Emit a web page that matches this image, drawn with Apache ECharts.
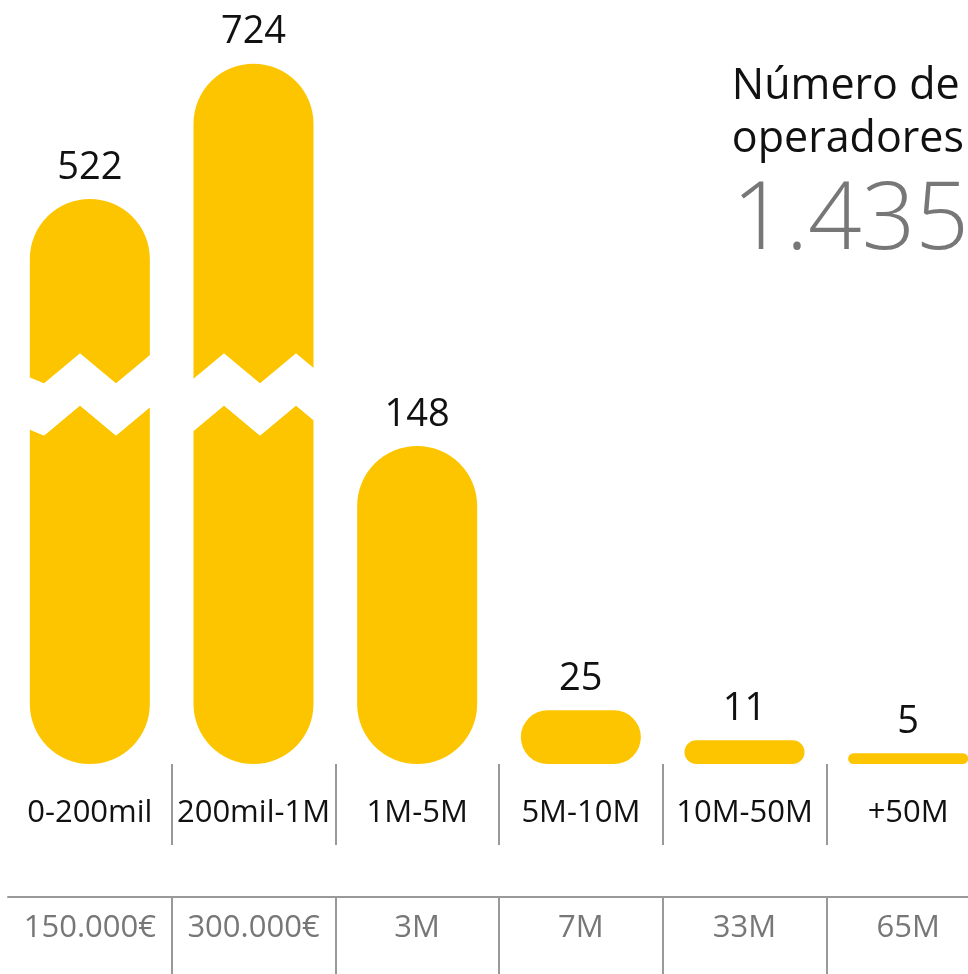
<!DOCTYPE html>
<html>
<head>
<meta charset="utf-8">
<script src="https://cdn.jsdelivr.net/npm/echarts@6/dist/echarts.min.js"></script>
<style>
  html, body { margin: 0; padding: 0; background: #fff; }
  #main { width: 968px; height: 974px; }
</style>
</head>
<body>
<div id="main"></div>
<script>
  var categories = ['0-200mil', '200mil-1M', '1M-5M', '5M-10M', '10M-50M', '+50M'];
  var operadores = [522, 724, 148, 25, 11, 5];
  var facturacion = ['150.000€', '300.000€', '3M', '7M', '33M', '65M'];
  var total = '1.435';
  // 0 and 1 = the two cut bars (each on its own y axis), 2 = the rest
  var groupOf = [0, 1, 2, 2, 2, 2];

  var yellow = '#FDC500';
  var font = 'Open Sans';

  var myChart = echarts.init(document.getElementById('main'));

  function cutAxis(end, max) {
    return {
      type: 'value',
      min: 0,
      max: max,
      axisLine: {show: false},
      axisTick: {show: false},
      axisLabel: {show: false},
      splitLine: {show: false},
      breaks: [{start: 160, end: end, gap: 24}],
      breakArea: {
        expandOnClick: false,
        zigzagAmplitude: 15,
        zigzagMinSpan: 36,
        zigzagMaxSpan: 36,
        zigzagZ: 100,
        itemStyle: {color: '#fff', borderColor: '#fff', borderWidth: 0, opacity: 1}
      }
    }
  }

  var groups = [
    {axis: 0, z: 2},
    {axis: 1, z: 2},
    {axis: 0, z: 150}   // above the white break band so the 148 label shows
  ];

  var series = groups.map(function (g, k) {
    return {
      type: 'bar',
      yAxisIndex: g.axis,
      z: g.z,
      barWidth: 120,
      barGap: '-100%',
      data: operadores.map(function (v, i) { return groupOf[i] === k ? v : '-' }),
      itemStyle: {color: yellow, borderRadius: 60},
      label: {
        show: true,
        position: 'top',
        distance: 12,
        fontFamily: font,
        fontSize: 38,
        color: '#111'
      }
    }
  });

  myChart.setOption({
    animation: false,
    title: [
      {
        text: 'Número de\noperadores',
        right: -1,
        top: 55,
        textStyle: {fontFamily: font, fontSize: 43, lineHeight: 53, fontWeight: 'normal', color: '#111'}
      },
      {
        text: total,
        right: -6,
        top: 167,
        textStyle: {fontFamily: font, fontSize: 94, lineHeight: 100, fontWeight: 300, color: '#777'}
      }
    ],
    grid: {left: 8, right: -22, top: 40, bottom: 210, outerBoundsMode: 'none'},
    xAxis: [
      {
        type: 'category',
        data: categories,
        position: 'bottom',
        axisLine: {show: false, onZero: false},
        axisTick: {
          show: true,
          length: 81,
          interval: function (i) { return i > 0 },
          lineStyle: {color: '#999', width: 2}
        },
        axisLabel: {interval: 0, hideOverlap: false, margin: 34, fontFamily: font, fontSize: 31, color: '#111'}
      },
      {
        type: 'category',
        data: facturacion,
        position: 'bottom',
        offset: 133,
        axisLine: {show: true, onZero: false, lineStyle: {color: '#999', width: 2}},
        axisTick: {
          show: true,
          length: 80,
          interval: function (i) { return i > 0 },
          lineStyle: {color: '#999', width: 2}
        },
        axisLabel: {interval: 0, hideOverlap: false, margin: 16, fontFamily: font, fontSize: 31, color: '#777'}
      }
    ],
    yAxis: [cutAxis(443, 596), cutAxis(582, 735)],
    series: series
  });
</script>
</body>
</html>
